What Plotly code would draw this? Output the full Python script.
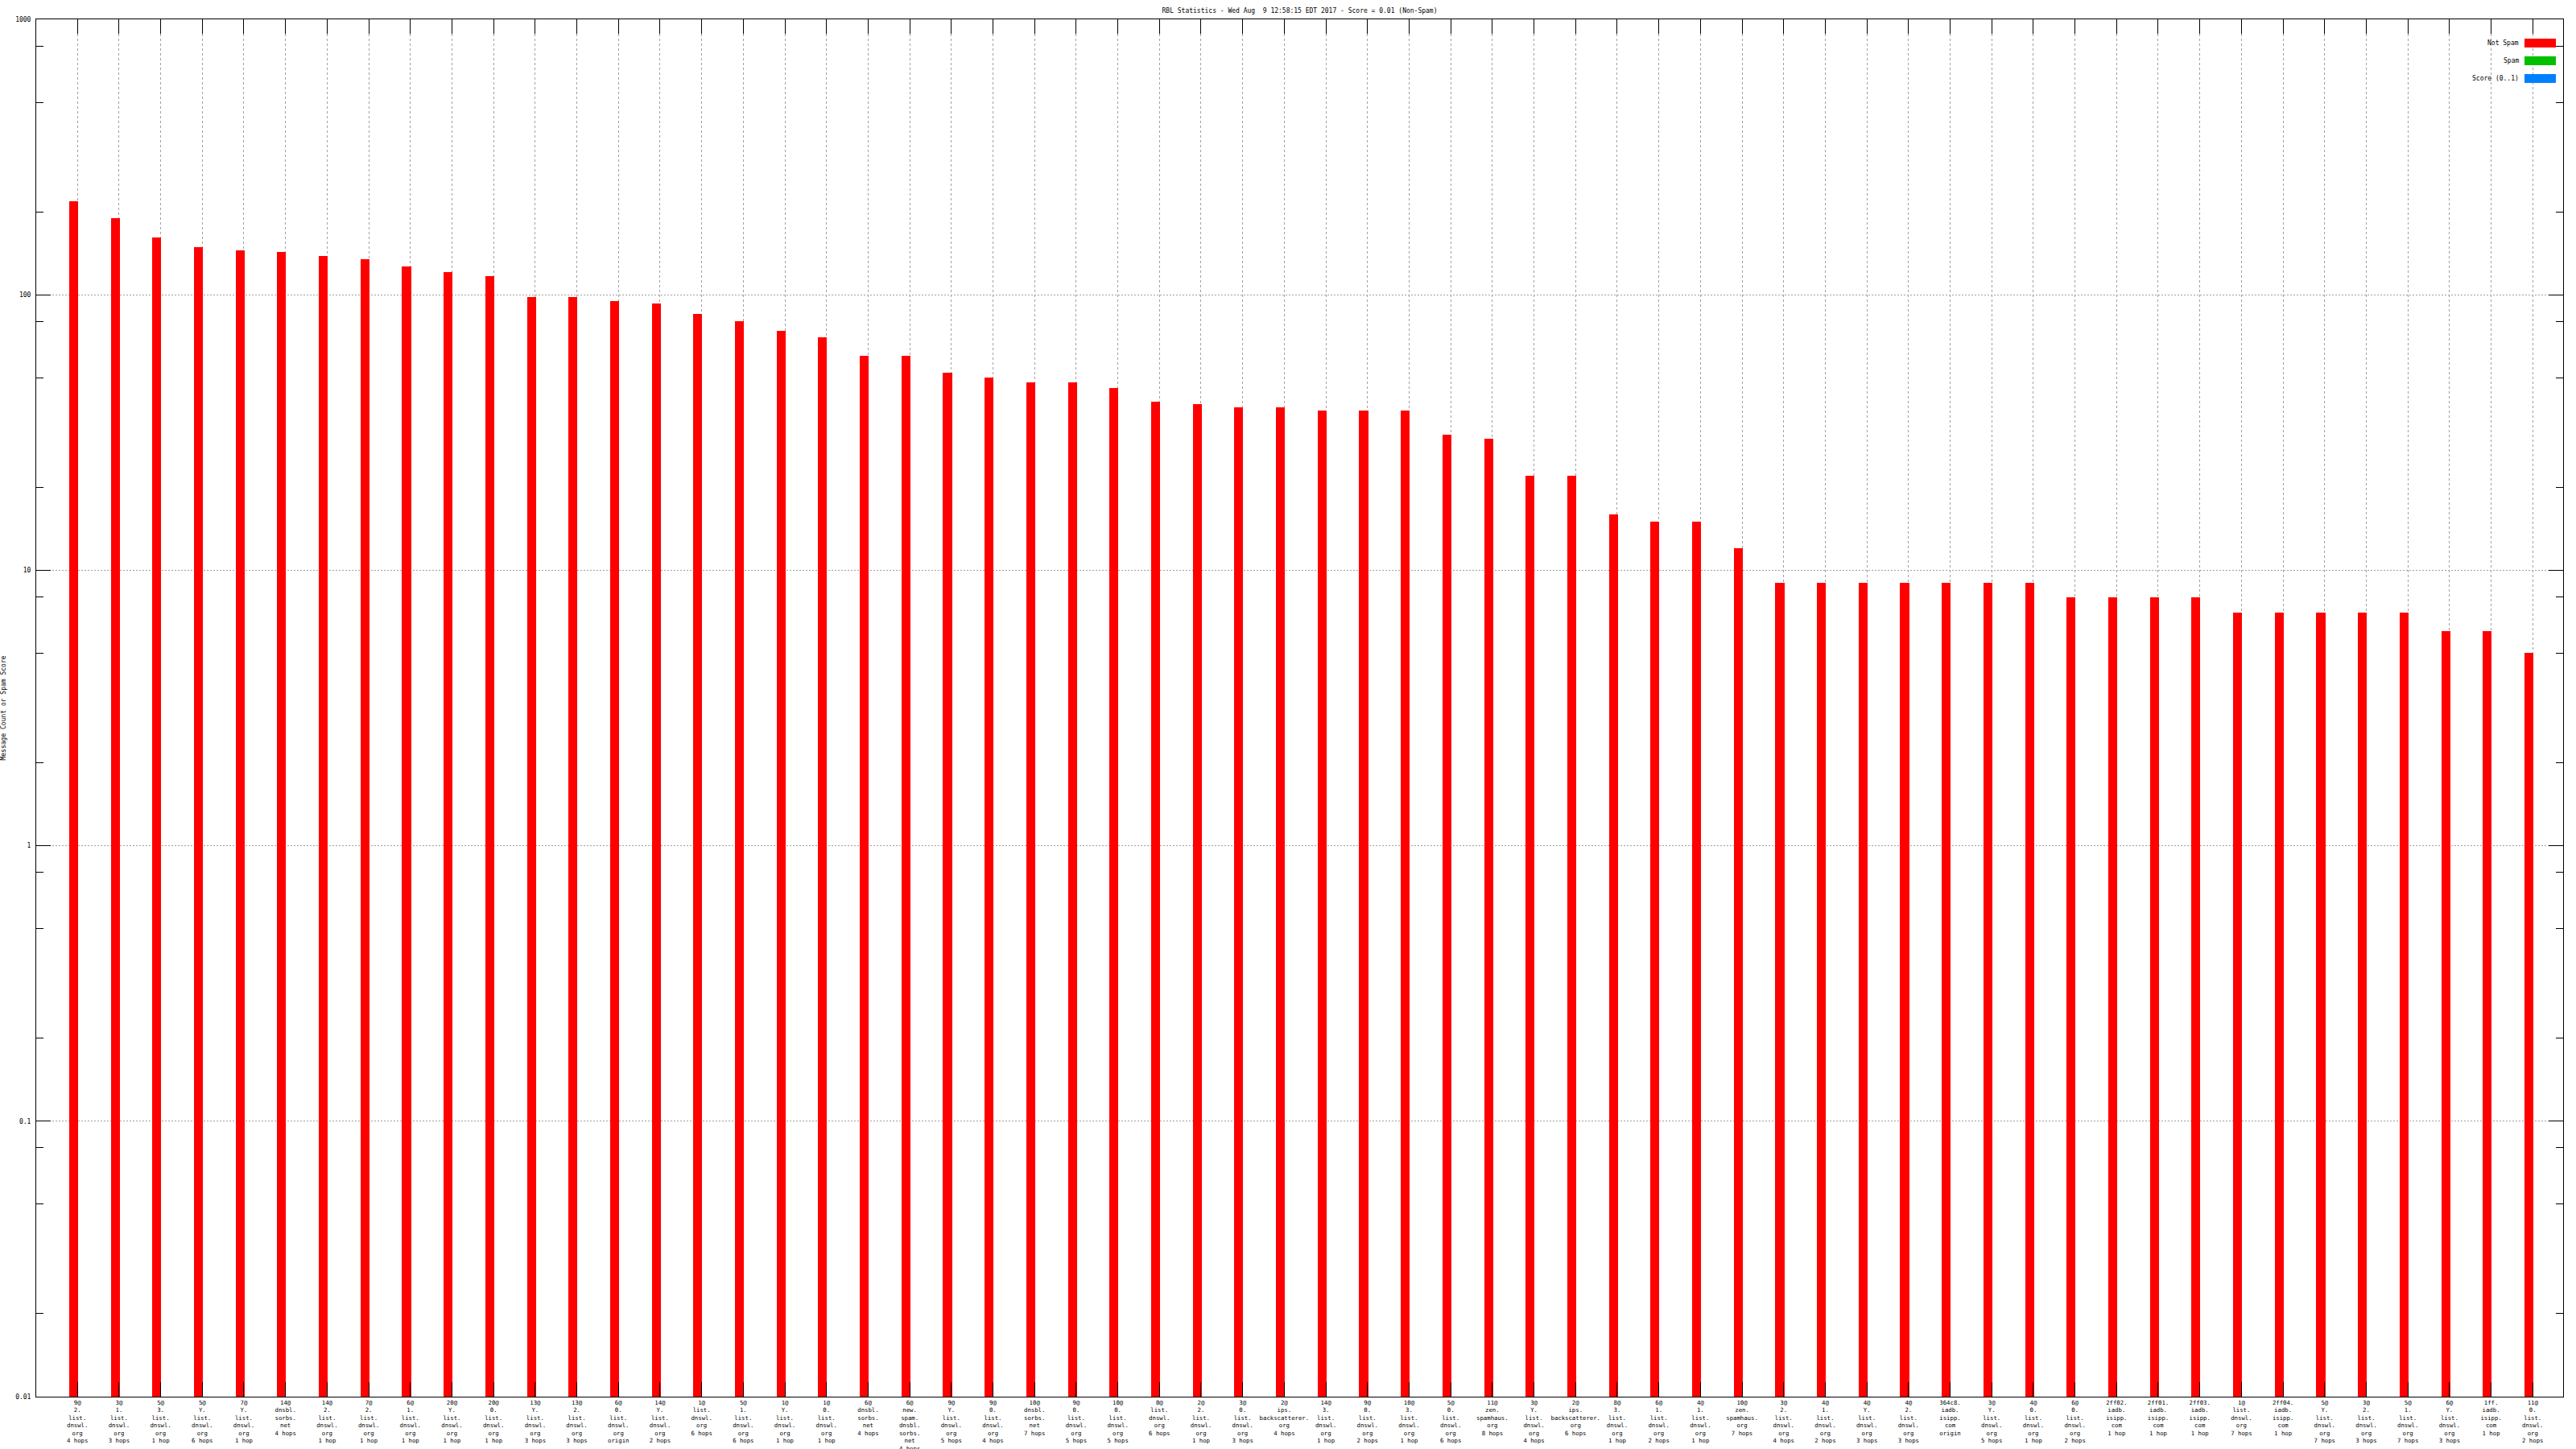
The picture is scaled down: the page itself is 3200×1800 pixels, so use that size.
import plotly.graph_objects as go

TITLE = "RBL Statistics - Wed Aug\u00a0 9 12:58:15 EDT 2017 - Score = 0.01 (Non-Spam)"

labels = [
    "9@|2.|list.|dnswl.|org|4 hops",
    "3@|1.|list.|dnswl.|org|3 hops",
    "5@|3.|list.|dnswl.|org|1 hop",
    "5@|Y.|list.|dnswl.|org|6 hops",
    "7@|Y.|list.|dnswl.|org|1 hop",
    "14@|dnsbl.|sorbs.|net|4 hops",
    "14@|2.|list.|dnswl.|org|1 hop",
    "7@|2.|list.|dnswl.|org|1 hop",
    "6@|1.|list.|dnswl.|org|1 hop",
    "20@|Y.|list.|dnswl.|org|1 hop",
    "20@|0.|list.|dnswl.|org|1 hop",
    "13@|Y.|list.|dnswl.|org|3 hops",
    "13@|2.|list.|dnswl.|org|3 hops",
    "6@|0.|list.|dnswl.|org|origin",
    "14@|Y.|list.|dnswl.|org|2 hops",
    "1@|list.|dnswl.|org|6 hops",
    "5@|1.|list.|dnswl.|org|6 hops",
    "1@|Y.|list.|dnswl.|org|1 hop",
    "1@|0.|list.|dnswl.|org|1 hop",
    "6@|dnsbl.|sorbs.|net|4 hops",
    "6@|new.|spam.|dnsbl.|sorbs.|net|4 hops",
    "9@|Y.|list.|dnswl.|org|5 hops",
    "9@|0.|list.|dnswl.|org|4 hops",
    "10@|dnsbl.|sorbs.|net|7 hops",
    "9@|0.|list.|dnswl.|org|5 hops",
    "10@|0.|list.|dnswl.|org|5 hops",
    "0@|list.|dnswl.|org|6 hops",
    "2@|2.|list.|dnswl.|org|1 hop",
    "3@|0.|list.|dnswl.|org|3 hops",
    "2@|ips.|backscatterer.|org|4 hops",
    "14@|3.|list.|dnswl.|org|1 hop",
    "9@|0.|list.|dnswl.|org|2 hops",
    "10@|3.|list.|dnswl.|org|1 hop",
    "5@|0.|list.|dnswl.|org|6 hops",
    "11@|zen.|spamhaus.|org|8 hops",
    "3@|Y.|list.|dnswl.|org|4 hops",
    "2@|ips.|backscatterer.|org|6 hops",
    "8@|3.|list.|dnswl.|org|1 hop",
    "6@|1.|list.|dnswl.|org|2 hops",
    "4@|1.|list.|dnswl.|org|1 hop",
    "10@|zen.|spamhaus.|org|7 hops",
    "3@|2.|list.|dnswl.|org|4 hops",
    "4@|1.|list.|dnswl.|org|2 hops",
    "4@|Y.|list.|dnswl.|org|3 hops",
    "4@|2.|list.|dnswl.|org|3 hops",
    "364c8.|iadb.|isipp.|com|origin",
    "3@|Y.|list.|dnswl.|org|5 hops",
    "4@|0.|list.|dnswl.|org|1 hop",
    "6@|0.|list.|dnswl.|org|2 hops",
    "2ff02.|iadb.|isipp.|com|1 hop",
    "2ff01.|iadb.|isipp.|com|1 hop",
    "2ff03.|iadb.|isipp.|com|1 hop",
    "1@|list.|dnswl.|org|7 hops",
    "2ff04.|iadb.|isipp.|com|1 hop",
    "5@|Y.|list.|dnswl.|org|7 hops",
    "3@|2.|list.|dnswl.|org|3 hops",
    "5@|1.|list.|dnswl.|org|7 hops",
    "6@|Y.|list.|dnswl.|org|3 hops",
    "1ff.|iadb.|isipp.|com|1 hop",
    "11@|0.|list.|dnswl.|org|2 hops",
]

not_spam = [218, 190, 161, 149, 145, 143, 138, 135, 127, 121,
            117, 98, 98, 95, 93, 85, 80, 74, 70, 60,
            60, 52, 50, 48, 48, 46, 41, 40, 39, 39,
            38, 38, 38, 31, 30, 22, 22, 16, 15, 15,
            12, 9, 9, 9, 9, 9, 9, 9, 8, 8,
            8, 8, 7, 7, 7, 7, 7, 6, 6, 5]
spam = [0] * len(labels)
score = [0] * len(labels)

y_tickvals = [0.01, 0.1, 1, 10, 100, 1000]
y_ticktext = ["0.01", "0.1", "1", "10", "100", "1000"]
y_minor = [m * 10.0 ** e for e in range(-2, 3) for m in (2, 5, 8)]

series_names = ["Not Spam", "Spam", "Score (0..1)"]
series_colors = ["#ff0000", "#00c000", "#0080ff"]

FONT = "DejaVu Sans Mono"
W, H = 3200, 1800
ML, MR, MT, MB = 45, 16, 24, 65

xs = list(range(len(labels)))
ticktext = [l.replace("|", "<br>") for l in labels]

fig = go.Figure()
fig.add_trace(go.Bar(x=xs, y=not_spam, name=series_names[0], marker_color=series_colors[0],
                     marker_line_width=0, width=0.215, offset=-0.2, showlegend=False))
fig.add_trace(go.Bar(x=xs, y=spam, name=series_names[1], marker_color=series_colors[1],
                     marker_line_width=0, width=0.215, offset=0.0, showlegend=False))
fig.add_trace(go.Bar(x=xs, y=score, name=series_names[2], marker_color=series_colors[2],
                     marker_line_width=0, width=0.215, offset=0.2, showlegend=False))

fig.update_layout(
    width=W, height=H,
    margin=dict(l=ML, r=MR, t=MT, b=MB, pad=0, autoexpand=False),
    paper_bgcolor="white", plot_bgcolor="white",
    font=dict(family=FONT, size=8, color="black"),
    title=dict(text=TITLE, x=0.5, xref="paper", y=1 - 13 / H, yref="container",
               xanchor="center", yanchor="middle", font=dict(family=FONT, size=8, color="black")),
    bargap=0, barmode="overlay",
    showlegend=False,
)

fig.update_xaxes(
    range=[-0.99, 59.73], tickmode="array", tickvals=xs, ticktext=ticktext,
    tickangle=0, tickfont=dict(family=FONT, size=7.3, color="black"),
    showline=True, linecolor="black", linewidth=1, mirror="allticks",
    ticks="inside", ticklen=18, tickcolor="black", tickwidth=1,
    showgrid=True, gridcolor="#a0a0a0", gridwidth=1, griddash="3px,3px",
    zeroline=False, fixedrange=True, automargin=False,
)
fig.update_yaxes(
    type="log", range=[-2, 3], tickmode="array", tickvals=y_tickvals, ticktext=y_ticktext,
    tickfont=dict(family=FONT, size=8, color="black"),
    showline=True, linecolor="black", linewidth=1, mirror="allticks",
    ticks="inside", ticklen=18, tickcolor="black", tickwidth=1,
    showgrid=True, gridcolor="#a0a0a0", gridwidth=1, griddash="2px,2px",
    minor=dict(tickmode="array", tickvals=y_minor, ticks="inside", ticklen=9,
               tickcolor="black", tickwidth=1, showgrid=False),
    zeroline=False, ticklabelstandoff=4, automargin=False, fixedrange=True,
    title=dict(text="Message Count or Spam Score", standoff=12,
               font=dict(family=FONT, size=8, color="black")),
)

# legend drawn as gnuplot-style key: text left, colour box right
pw = W - ML - MR
ph = H - MT - MB
def px_x(p):
    return (p - ML) / pw
def px_y(p):
    return (H - MB - p) / ph

for i, (nm, col) in enumerate(zip(series_names, series_colors)):
    cy = 53.5 + 22 * i
    fig.add_shape(type="rect", xref="paper", yref="paper",
                  x0=px_x(3136), x1=px_x(3175), y0=px_y(cy - 5.5), y1=px_y(cy + 5.5),
                  fillcolor=col, line_width=0, layer="above")
    fig.add_annotation(text=nm, xref="paper", yref="paper", x=px_x(3131), y=px_y(cy),
                       xanchor="right", yanchor="middle", showarrow=False,
                       font=dict(family=FONT, size=8, color="black"))

fig.write_html("out.html", config={"displayModeBar": False},
               post_script="document.body.style.margin='0';document.body.style.padding='0';")
